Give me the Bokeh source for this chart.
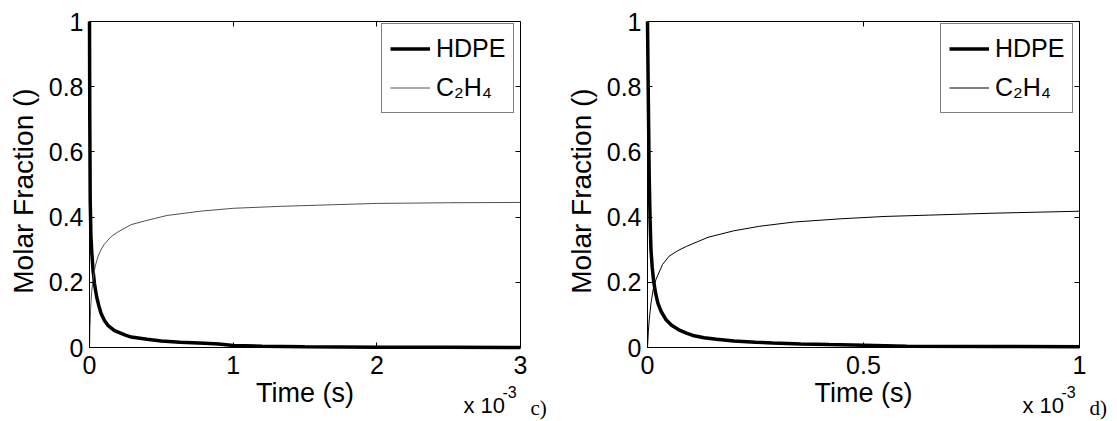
import math
from bokeh.plotting import figure
from bokeh.layouts import row
from bokeh.models import (Range1d, FixedTicker, LinearAxis, Label, Legend,
                          LegendItem, CustomJSTickFormatter)
from bokeh.embed import file_html
from bokeh.resources import INLINE

# ---- data (time in units of 1e-3 s) ----
t_hdpe_c = [0, 0.002, 0.005, 0.01, 0.016, 0.025, 0.035, 0.05, 0.065, 0.08, 0.104,
            0.13, 0.174, 0.25, 0.29, 0.4, 0.5, 0.63, 0.8, 0.9, 1.0, 1.2, 1.5, 2.0, 2.5, 3.0]
hdpe_c = [1.0, 0.7, 0.45, 0.34, 0.29, 0.235, 0.195, 0.155, 0.128, 0.105, 0.083,
          0.067, 0.052, 0.038, 0.032, 0.025, 0.02, 0.016, 0.013, 0.011, 0.006, 0.004,
          0.002, 0.001, 0.0005, 0.0003]
t_c2h4_c = [0, 0.003, 0.008, 0.015, 0.025, 0.04, 0.06, 0.08, 0.1, 0.15, 0.2, 0.29,
            0.4, 0.54, 0.77, 1.0, 1.33, 1.7, 2.0, 2.5, 3.0]
c2h4_c = [0, 0.06, 0.12, 0.17, 0.21, 0.25, 0.28, 0.3, 0.315, 0.34, 0.355, 0.377,
          0.39, 0.405, 0.418, 0.427, 0.433, 0.438, 0.442, 0.444, 0.445]

t_hdpe_d = [0, 0.002, 0.004, 0.006, 0.008, 0.011, 0.014, 0.019, 0.024, 0.031, 0.043,
            0.055, 0.074, 0.09, 0.105, 0.131, 0.16, 0.2, 0.25, 0.29, 0.355, 0.42, 0.5,
            0.6, 0.8, 1.0]
hdpe_d = [1.0, 0.75, 0.52, 0.39, 0.3, 0.245, 0.205, 0.165, 0.136, 0.112, 0.085,
          0.069, 0.053, 0.044, 0.037, 0.03, 0.025, 0.02, 0.016, 0.014, 0.011, 0.009,
          0.007, 0.004, 0.003, 0.002]
t_c2h4_d = [0, 0.002, 0.004, 0.008, 0.014, 0.02, 0.035, 0.05, 0.07, 0.09, 0.14, 0.2,
            0.26, 0.34, 0.45, 0.55, 0.65, 0.8, 1.0]
c2h4_d = [0, 0.05, 0.085, 0.135, 0.185, 0.21, 0.255, 0.28, 0.297, 0.31, 0.338, 0.358,
          0.372, 0.385, 0.395, 0.402, 0.406, 0.412, 0.418]

x_ticks_c = [0, 1, 2, 3]
x_labels_c = ["0", "1", "2", "3"]
x_ticks_d = [0, 0.5, 1]
x_labels_d = ["0", "0.5", "1"]
y_ticks = [0, 0.2, 0.4, 0.6, 0.8, 1]
y_labels = ["0", "0.2", "0.4", "0.6", "0.8", "1"]
series_names = ["HDPE", "C\u2082H\u2084"]
panel_tags = ["c)", "d)"]
x_label = "Time (s)"
y_label = "Molar Fraction ()"

FONT = "Liberation Sans"
SERIF = "Liberation Serif"

H = 421
LEFT, TOP, DATA_H = 89, 21, 326      # pixel layout of the axes box
BOTTOM = H - TOP - DATA_H            # 74 px below the axes box


def style_axis(ax):
    ax.major_tick_in = 5
    ax.major_tick_out = 0
    ax.minor_tick_line_color = None
    ax.axis_line_color = "black"
    ax.major_tick_line_color = "black"
    ax.major_label_text_color = "black"


def make_panel(width, xmax, xt, xl, th, h, tc, c, c_color, tag):
    data_w = width - LEFT - 38
    right_pad = width - LEFT - data_w
    x0 = -LEFT / data_w * xmax
    x1 = xmax + right_pad / data_w * xmax
    y0 = -BOTTOM / DATA_H
    y1 = 1 + TOP / DATA_H
    p = figure(width=width, height=H, x_range=Range1d(x0, x1), y_range=Range1d(y0, y1),
               output_backend="svg", toolbar_location=None,
               min_border_left=0, min_border_right=0, min_border_top=0,
               min_border_bottom=0)
    p.grid.visible = False
    p.outline_line_color = None
    p.background_fill_color = "white"
    p.border_fill_color = "white"

    r1 = p.line(th, h, line_color="black", line_width=3.5)
    r2 = p.line(tc, c, line_color=c_color, line_width=1)

    xa = p.xaxis[0]
    xa.fixed_location = 0
    xa.bounds = (0, xmax)
    xa.ticker = FixedTicker(ticks=xt)
    xa.major_label_overrides = {k: v for k, v in zip(xt, xl)}
    xa.major_label_text_font = FONT
    xa.major_label_text_font_size = "25px"
    xa.major_label_standoff = 8
    style_axis(xa)

    ya = p.yaxis[0]
    ya.fixed_location = 0
    ya.bounds = (0, 1)
    ya.ticker = FixedTicker(ticks=y_ticks)
    ya.major_label_overrides = {k: v for k, v in zip(y_ticks, y_labels)}
    ya.major_label_text_font = FONT
    ya.major_label_text_font_size = "25px"
    ya.major_label_standoff = 6
    style_axis(ya)

    empty = "return ''"
    top = LinearAxis(ticker=FixedTicker(ticks=xt), fixed_location=1, bounds=(0, xmax),
                     formatter=CustomJSTickFormatter(code=empty))
    style_axis(top)
    p.add_layout(top, "above")
    right = LinearAxis(ticker=FixedTicker(ticks=y_ticks), fixed_location=xmax, bounds=(0, 1),
                       formatter=CustomJSTickFormatter(code=empty))
    style_axis(right)
    p.add_layout(right, "right")

    xr = LEFT + data_w   # right edge of the axes box (screen px)

    # axis titles
    p.add_layout(Label(x=LEFT + data_w / 2, y=29, x_units="screen", y_units="screen",
                       text=x_label, text_font=FONT, text_font_size="27px",
                       text_align="center", text_baseline="alphabetic", text_color="black"))
    p.add_layout(Label(x=23, y=BOTTOM + DATA_H * 0.48, x_units="screen", y_units="screen",
                       text=y_label, text_font=FONT, text_font_size="28px", angle=math.pi / 2,
                       text_align="center", text_baseline="alphabetic", text_color="black"))

    legend = Legend(items=[LegendItem(label=series_names[0], renderers=[r1]),
                           LegendItem(label=series_names[1], renderers=[r2])],
                    location=(xr - 139, H - 113))
    legend.border_line_color = "black"
    legend.border_line_width = 1
    legend.background_fill_color = "white"
    legend.background_fill_alpha = 1
    legend.label_text_font = FONT
    legend.label_text_font_size = "25px"
    legend.label_text_color = "black"
    legend.glyph_width = 40
    legend.glyph_height = 33
    legend.label_height = 33
    legend.spacing = 6
    legend.padding = 8
    legend.margin = 0
    legend.label_standoff = 6
    p.add_layout(legend)

    p.add_layout(Label(x=xr - 57, y=16, x_units="screen", y_units="screen", text="x 10",
                       text_font=FONT, text_font_size="22px", text_baseline="alphabetic",
                       text_color="black"))
    p.add_layout(Label(x=xr - 18, y=30, x_units="screen", y_units="screen", text="-3",
                       text_font=FONT, text_font_size="16px", text_baseline="alphabetic",
                       text_color="black"))
    p.add_layout(Label(x=xr + 10, y=14, x_units="screen", y_units="screen", text=tag,
                       text_font=SERIF, text_font_size="21px", text_baseline="alphabetic",
                       text_color="black"))
    return p


p1 = make_panel(558, 3, x_ticks_c, x_labels_c, t_hdpe_c, hdpe_c, t_c2h4_c, c2h4_c,
                "#505050", panel_tags[0])
p2 = make_panel(559, 1, x_ticks_d, x_labels_d, t_hdpe_d, hdpe_d, t_c2h4_d, c2h4_d,
                "black", panel_tags[1])

layout = row(p1, p2)
open("out.html", "w").write(file_html(layout, INLINE))
